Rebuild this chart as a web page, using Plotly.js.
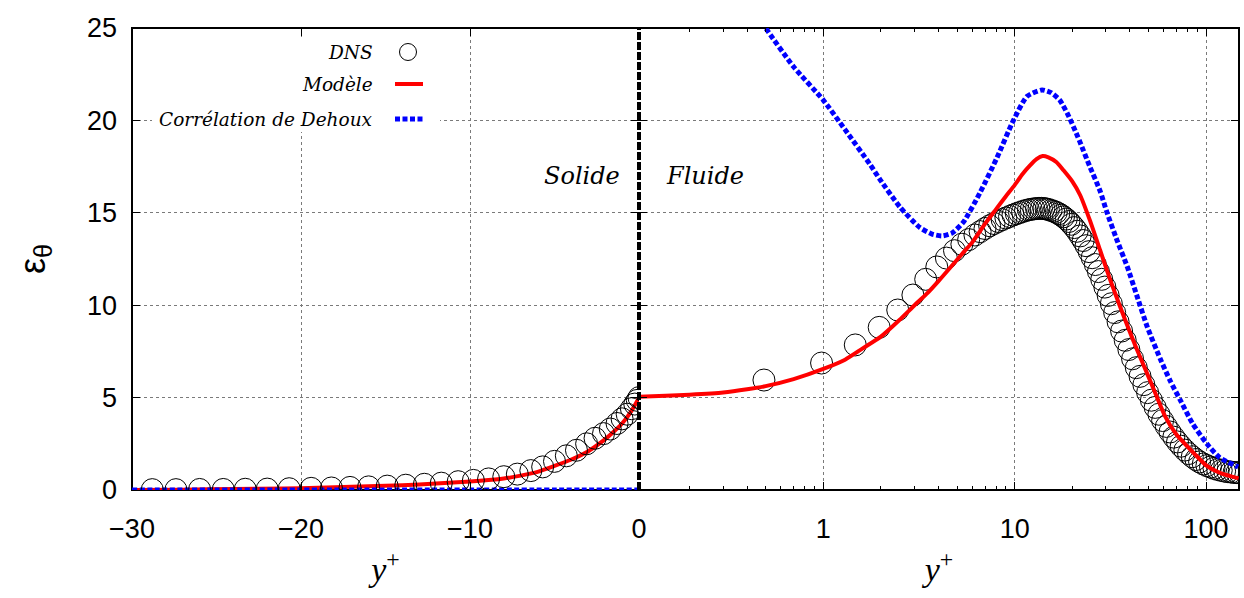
<!DOCTYPE html>
<html>
<head>
<meta charset="utf-8">
<script src="https://cdn.plot.ly/plotly-3.0.1.min.js"></script>
<style>html,body{margin:0;padding:0;background:#fff;}#chart{width:1244px;height:598px;}</style>
</head>
<body>
<div id="chart"></div>
<script>
// ---------- Solid side (linear y+ from -30 to 0) ----------
const solidDnsX = [-28.8,-27.4,-26.0,-24.6,-23.3,-22.0,-20.7,-19.4,-18.2,-17.1,-16.0,-14.9,-13.8,-12.7,-11.7,-10.7,-9.8,-8.9,-8.0,-7.2,-6.4,-5.7,-5.0,-4.3,-3.7,-3.1,-2.6,-2.1,-1.7,-1.3,-1.0,-0.7,-0.45,-0.25,-0.1,0];
const solidDnsY = [0.02,0.02,0.03,0.03,0.04,0.05,0.07,0.09,0.11,0.14,0.17,0.21,0.26,0.31,0.37,0.45,0.52,0.6,0.72,0.86,1.05,1.25,1.55,1.85,2.15,2.5,2.8,3.05,3.3,3.6,3.85,4.1,4.4,4.65,4.85,5.0];
const solidModelX = [-30,-27,-24,-21,-19,-17,-15,-13,-11,-9.4,-8,-7,-6,-5,-4,-3,-2,-1.5,-1,-0.5,0];
const solidModelY = [0.0,0.02,0.05,0.08,0.12,0.17,0.23,0.3,0.4,0.5,0.62,0.78,0.98,1.3,1.65,2.1,2.75,3.15,3.6,4.2,5.0];
const solidDehouxX = [-30,-20,-10,0];
const solidDehouxY = [0,0,0,0];

// ---------- Fluid side (log y+) ----------
const fluidDnsX = [0.49,0.98,1.47,1.96,2.45,2.94,3.43,3.92,4.4,4.85,5.3,5.75,6.2,6.6,7.0,7.4,7.8,8.2,8.6,9.0,9.4,9.8,10.2,10.6,11.0,11.4,11.8,12.2,12.6,13.0,13.4,13.8,14.2,14.6,15.0,15.5,16.0,16.5,17.0,17.5,18.0,18.6,19.2,19.8,20.5,21.2,22.0,22.8,23.6,24.5,25.4,26.4,27.4,28.5,29.6,30.8,32.0,33.3,34.7,36.2,37.8,39.5,41.3,43.2,45.2,47.3,49.5,51.8,54.2,56.7,59.3,62.0,64.8,67.8,70.9,74.1,77.5,81.0,84.7,88.5,92.5,96.7,101,105.5,110,115,120,125,130,135,140,145,150];
const fluidDnsY = [5.95,6.87,7.85,8.8,9.74,10.55,11.4,12.07,12.55,12.95,13.3,13.55,13.8,13.98,14.15,14.3,14.42,14.53,14.63,14.72,14.8,14.88,14.95,15.01,15.07,15.12,15.16,15.19,15.21,15.23,15.24,15.24,15.23,15.21,15.18,15.13,15.08,15.02,14.95,14.87,14.78,14.66,14.53,14.38,14.2,14.0,13.75,13.5,13.22,12.9,12.57,12.2,11.82,11.4,10.98,10.53,10.08,9.6,9.1,8.6,8.1,7.6,7.1,6.62,6.15,5.7,5.27,4.86,4.47,4.1,3.76,3.44,3.14,2.86,2.6,2.37,2.16,1.97,1.8,1.65,1.52,1.41,1.32,1.24,1.17,1.11,1.06,1.02,0.99,0.97,0.95,0.94,0.93];
const fluidModelX = [0.109,0.15,0.2,0.3,0.4,0.5,0.7,1.0,1.3,1.6,2.0,2.5,3.0,3.5,4.0,4.76,5.5,6.0,7.0,8.0,9.0,10,11,12,13,14,15,16.5,18,20,22,24.7,27.9,31.5,35.6,41.6,45,49,55,61,70,80,90,101,120,148];
const fluidModelY = [5.05,5.1,5.16,5.28,5.45,5.62,6.0,6.55,7.05,7.65,8.3,9.2,10.0,10.65,11.3,12.2,12.95,13.4,14.4,15.2,15.9,16.5,17.1,17.55,17.9,18.07,18.0,17.75,17.3,16.7,15.95,14.6,13.0,11.4,9.9,8.1,7.25,6.35,5.1,4.0,3.0,2.35,1.8,1.3,0.9,0.63];
const fluidDehouxX = [0.109,0.2,0.3,0.4,0.5,0.7,1.0,1.3,1.76,1.98,2.52,3.2,3.7,4.17,4.7,5.4,6.6,8.1,9.85,11.6,13.9,15.5,17.2,19.0,21.2,22.0,24.7,27.9,30.4,34.3,38.7,43.7,49.4,57.6,65,73,85,101,118,147];
const fluidDehouxY = [34,30.5,28,26.5,25.0,22.9,21.1,19.5,17.6,16.8,15.3,14.2,13.85,13.75,13.9,14.5,16.1,18.0,20.0,21.3,21.65,21.5,21.1,20.3,19.2,18.8,17.5,16.2,15.0,13.5,12.1,10.45,8.8,7.1,5.9,4.9,3.6,2.5,1.75,1.25];

// ---------- Labels ----------
const seriesNames = ['DNS', 'Modèle', 'Corrélation de Dehoux'];
const solidTicks = [-30, -20, -10, 0];
const fluidTickVals = [1, 10, 100];
const fluidTickText = ['1', '10', '100'];
const fluidMinorTicks = [0.2,0.3,0.4,0.5,0.6,0.7,0.8,0.9,2,3,4,5,6,7,8,9,20,30,40,50,60,70,80,90];
const yTicks = [0, 5, 10, 15, 20, 25];
const regionLabels = ['Solide', 'Fluide'];

const dnsMarker = {symbol: 'circle-open', size: 22, color: '#000', line: {width: 1, color: '#000'}};
const redLine = {color: '#ff0000', width: 4, shape: 'spline', smoothing: 0.6};
const blueLine = {color: '#0000ff', width: 5, dash: '5px,2.5px', shape: 'spline', smoothing: 0.6};

const traces = [
  {x: solidModelX, y: solidModelY, mode: 'lines', line: redLine, xaxis: 'x', yaxis: 'y', name: seriesNames[1], showlegend: false},
  {x: solidDehouxX, y: solidDehouxY, mode: 'lines', line: blueLine, xaxis: 'x', yaxis: 'y', name: seriesNames[2], showlegend: false, cliponaxis: false},
  {x: solidDnsX, y: solidDnsY, mode: 'markers', marker: dnsMarker, xaxis: 'x', yaxis: 'y', name: seriesNames[0], showlegend: false},
  {x: fluidDnsX, y: fluidDnsY, mode: 'markers', marker: dnsMarker, xaxis: 'x2', yaxis: 'y2', name: seriesNames[0], showlegend: false},
  {x: fluidModelX, y: fluidModelY, mode: 'lines', line: redLine, xaxis: 'x2', yaxis: 'y2', name: seriesNames[1], showlegend: false},
  {x: fluidDehouxX, y: fluidDehouxY, mode: 'lines', line: blueLine, xaxis: 'x2', yaxis: 'y2', name: seriesNames[2], showlegend: false}
];

const tickFont = {family: 'Liberation Sans, Arial, sans-serif', size: 27, color: '#000'};
const titleFont = {family: 'Liberation Serif, serif', size: 34, color: '#000'};
const gridStyle = {showgrid: true, gridcolor: '#7a7a7a', gridwidth: 1, griddash: 'dot'};

const W = 1107; // plot width in px
const H = 462;
const px = v => (v - 132) / W;
const py = v => (490 - v) / H;
const legendFont = {family: 'DejaVu Serif, serif', size: 18.5, color: '#000'};
const regionFont = {family: 'DejaVu Serif, serif', size: 24, color: '#000'};

const layout = {
  width: 1244, height: 598,
  margin: {l: 132, r: 5, t: 28, b: 108},
  paper_bgcolor: '#fff', plot_bgcolor: '#fff',
  showlegend: false,
  xaxis: Object.assign({
    domain: [0, 507 / W], range: [-30, 0], tickmode: 'array', tickvals: solidTicks,
    ticks: 'inside', ticklen: 8, tickcolor: '#000', mirror: 'ticks', showline: false, zeroline: false,
    tickfont: tickFont, ticklabelstandoff: 20,
    title: {text: '<i>y</i><sup>+</sup>', font: titleFont, standoff: 14}
  }, gridStyle),
  xaxis2: Object.assign({
    domain: [507 / W, 1], type: 'log', range: [Math.log10(0.109), Math.log10(148.6)],
    tickmode: 'array', tickvals: fluidTickVals, ticktext: fluidTickText,
    ticks: 'inside', ticklen: 8, tickcolor: '#000', mirror: 'ticks', showline: false, zeroline: false,
    minor: {tickmode: 'array', tickvals: fluidMinorTicks, ticks: 'inside', ticklen: 4, tickcolor: '#000', showgrid: false},
    tickfont: tickFont, ticklabelstandoff: 20, anchor: 'y2',
    title: {text: '<i>y</i><sup>+</sup>', font: titleFont, standoff: 14}
  }, gridStyle),
  yaxis: Object.assign({
    range: [0, 25], tickmode: 'array', tickvals: yTicks,
    ticks: 'inside', ticklen: 8, tickcolor: '#000', mirror: 'ticks', showline: false, zeroline: false,
    tickfont: tickFont, ticklabelstandoff: 14, anchor: 'x',
    title: {text: 'ε<sub>θ</sub>', font: {family: 'Liberation Sans, Arial, sans-serif', size: 36, color: '#000'}, standoff: 30}
  }, gridStyle),
  yaxis2: Object.assign({
    range: [0, 25], matches: 'y', tickmode: 'array', tickvals: yTicks,
    ticks: 'inside', ticklen: 8, tickcolor: '#000', mirror: 'ticks', showline: false, zeroline: false,
    showticklabels: false, anchor: 'x2'
  }, gridStyle),
  shapes: [
    {type: 'rect', xref: 'paper', yref: 'paper', x0: 0, x1: 1, y0: 0, y1: 1, line: {color: '#000', width: 2}, layer: 'below'},
    {type: 'line', xref: 'paper', yref: 'paper', x0: 507 / W, x1: 507 / W, y0: 0, y1: 1, line: {color: '#000', width: 4, dash: '8px,2px'}, layer: 'above'},
    // legend box
    {type: 'rect', xref: 'paper', yref: 'paper', x0: px(152), x1: px(440), y0: py(132), y1: py(37), fillcolor: '#fff', line: {width: 0}, layer: 'above'},
    {type: 'circle', xref: 'paper', yref: 'paper', xsizemode: 'pixel', ysizemode: 'pixel', xanchor: px(408), yanchor: py(52), x0: -8.5, x1: 8.5, y0: -8.5, y1: 8.5, line: {color: '#000', width: 1}, layer: 'above'},
    {type: 'line', xref: 'paper', yref: 'paper', x0: px(395), x1: px(423), y0: py(84), y1: py(84), line: {color: '#ff0000', width: 4}, layer: 'above'},
    {type: 'line', xref: 'paper', yref: 'paper', x0: px(395), x1: px(423), y0: py(119), y1: py(119), line: {color: '#0000ff', width: 5, dash: '5px,2.5px'}, layer: 'above'}
  ],
  annotations: [
    {xref: 'paper', yref: 'paper', x: px(375), y: py(52), xanchor: 'right', yanchor: 'middle', text: '<i>' + seriesNames[0] + '</i>', showarrow: false, font: legendFont},
    {xref: 'paper', yref: 'paper', x: px(375), y: py(84), xanchor: 'right', yanchor: 'middle', text: '<i>' + seriesNames[1] + '</i>', showarrow: false, font: legendFont},
    {xref: 'paper', yref: 'paper', x: px(375), y: py(119), xanchor: 'right', yanchor: 'middle', text: '<i>' + seriesNames[2] + '</i>', showarrow: false, font: legendFont},
    {xref: 'paper', yref: 'paper', x: px(622), y: py(176), xanchor: 'right', yanchor: 'middle', text: '<i>' + regionLabels[0] + '</i>', showarrow: false, font: regionFont},
    {xref: 'paper', yref: 'paper', x: px(664), y: py(176), xanchor: 'left', yanchor: 'middle', text: '<i>' + regionLabels[1] + '</i>', showarrow: false, font: regionFont}
  ]
};

Plotly.newPlot('chart', traces, layout, {displayModeBar: false, staticPlot: true});
</script>
</body>
</html>
